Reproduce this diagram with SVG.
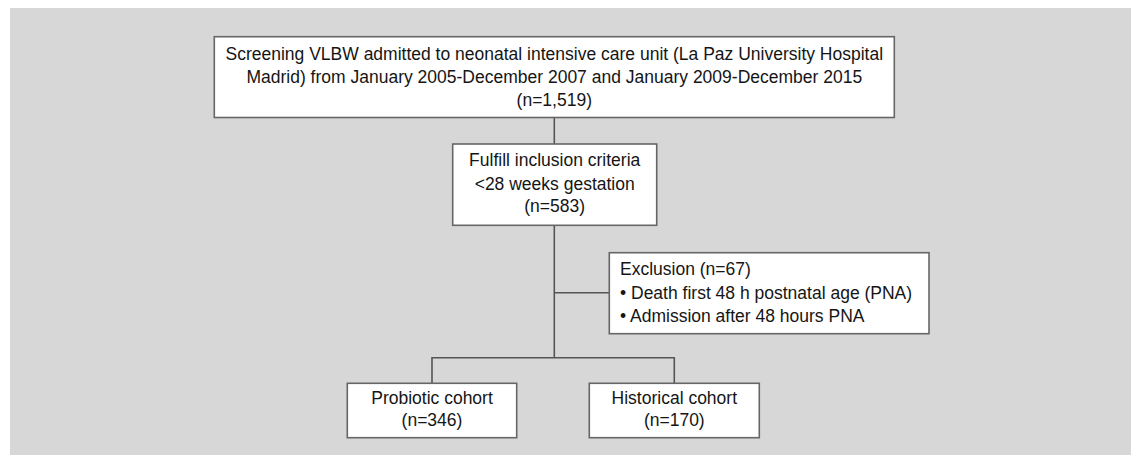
<svg xmlns="http://www.w3.org/2000/svg" width="1131" height="455" viewBox="0 0 1131 455">
<style>
.box{fill:#fff;stroke:#666;stroke-width:1.6}
.ln{fill:none;stroke:#555;stroke-width:1.6}
text{font-family:"Liberation Sans",Arial,sans-serif;font-size:17.5px;fill:#151515}
.c{text-anchor:middle}
</style>
<rect x="0" y="0" width="1131" height="455" fill="#fff"/>
<rect x="10" y="8" width="1121" height="447" fill="#d7d7d7"/>
<g id="connectors">
<path class="ln" d="M554.3 117.5V144"/>
<path class="ln" d="M554.3 225.3V357.7"/>
<path class="ln" d="M554.3 292.7H609.3"/>
<path class="ln" d="M432 383.3V357.7H674.3V383.3"/>
</g>
<g id="screening">
<rect class="box" x="214.3" y="36.7" width="680" height="80.8"/>
<text class="c" x="554.3" y="60">Screening VLBW admitted to neonatal intensive care unit (La Paz University Hospital</text>
<text class="c" x="554.3" y="83">Madrid) from January 2005-December 2007 and January 2009-December 2015</text>
<text class="c" x="554.3" y="106">(n=1,519)</text>
</g>
<g id="inclusion">
<rect class="box" x="452.7" y="144" width="204" height="81.3"/>
<text class="c" x="554.7" y="166">Fulfill inclusion criteria</text>
<text class="c" x="554.7" y="190">&lt;28 weeks gestation</text>
<text class="c" x="554.7" y="212">(n=583)</text>
</g>
<g id="exclusion">
<rect class="box" x="609.3" y="252.7" width="319.7" height="81"/>
<text x="620" y="275">Exclusion (n=67)</text>
<text x="620" y="299">• Death first 48 h postnatal age (PNA)</text>
<text x="620" y="322.3">• Admission after 48 hours PNA</text>
</g>
<g id="probiotic">
<rect class="box" x="347.3" y="383.3" width="169.4" height="54.4"/>
<text class="c" x="432" y="404">Probiotic cohort</text>
<text class="c" x="432" y="426">(n=346)</text>
</g>
<g id="historical">
<rect class="box" x="589.3" y="383.3" width="170" height="54.4"/>
<text class="c" x="674.3" y="404">Historical cohort</text>
<text class="c" x="674.3" y="426">(n=170)</text>
</g>
</svg>
